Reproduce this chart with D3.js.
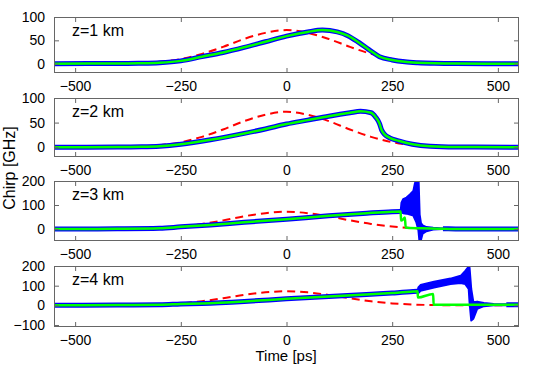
<!DOCTYPE html>
<html>
<head>
<meta charset="utf-8">
<script src="https://cdn.jsdelivr.net/npm/d3@7"></script>
<style>
  html, body { margin: 0; padding: 0; background: #fff; }
  svg { display: block; font-family: "Liberation Sans", Arial, sans-serif; }
</style>
</head>
<body>
<svg id="chart" width="545" height="365"></svg>
<script>
// ---- data ----
const timeTicks = [-500, -250, 0, 250, 500];
const panelNames = ['z=1 km', 'z=2 km', 'z=3 km', 'z=4 km'];
const chirpDomains = [[-20, 100], [-20, 100], [-50, 200], [-110, 200]];
const chirpTicks = [[0, 50, 100], [0, 50, 100], [0, 100, 200], [-100, 0, 100, 200]];

// red dashed: input chirp (same in every panel)
const inputTime = [-550, -450, -400, -350, -300, -250, -200, -150, -100, -50, 0, 50, 100, 150, 200, 250, 300, 350, 400, 450, 550];
const inputChirp = [0, 0.3, 0.6, 1.6, 4, 10, 21, 36, 53, 66, 72, 66, 53, 36, 21, 10, 4, 1.6, 0.6, 0.3, 0];

// z = 1 km (blue and green coincide)
const z1Time = [-550, -400, -350, -300, -250, -200, -150, -100, -50, 0, 50, 85, 120, 145, 170, 195, 220, 250, 280, 310, 350, 400, 550];
const z1Chirp = [0, 0.3, 0.8, 2, 6, 15, 24, 35, 47, 59, 68, 72, 68, 60, 46, 30, 15, 8, 4, 2, 0.7, 0.2, 0];

// z = 2 km (blue and green coincide)
const z2Time = [-550, -400, -343, -300, -250, -180, -100, -50, 0, 50, 100, 150, 175, 200, 211, 220, 225, 232, 244, 265, 298, 340, 400, 550];
const z2Chirp = [0, 0.2, 0.7, 2, 6, 15, 28, 37, 47, 55, 63, 70, 73, 70, 61, 48, 35, 26, 19, 13, 6, 2, 0.5, 0];

// z = 3 km
const z3GreenTime = [-550, -400, -300, -250, -180, -100, 0, 100, 190, 250, 270, 271, 276, 280, 282, 290, 320, 360, 400, 550];
const z3GreenChirp = [0, 1, 3, 9, 17, 28, 41, 55, 66, 72, 73, 35, 40, 48, 6, 4, 3, 1.5, 0.5, 0];
const z3BlueTime = [-550, -400, -300, -250, -180, -100, 0, 100, 190, 250, 270, 300, 370, 400, 550];
const z3BlueChirp = [0, 1, 3, 9, 17, 28, 41, 55, 66, 72, 73, null, 1, 0.5, 0];
const z3BurstTime = [270, 272, 276, 284, 292, 300, 304, 307, 312, 315, 318, 322, 331, 347, 370];
const z3BurstHigh = [73, 110, 124, 131, 144, 158, 192, 230, 230, 60, 25, 15, 8, 5, 2];
const z3BurstLow = [73, 68, 66, 64, 60, 56, 40, 29, -5, -60, -46, -19, -9, -2, 0];

// z = 4 km
const z4GreenTime = [-550, -400, -300, -250, -200, -100, 0, 100, 200, 250, 300, 310, 311, 347, 348, 400, 550];
const z4GreenChirp = [0, 2, 3, 7, 10, 20, 33, 45, 57, 63, 70, 72, 40, 58, 3, 3, 3];
const z4BlueTime = [-550, -400, -300, -250, -200, -100, 0, 100, 200, 250, 300, 310, 400, 520, 550];
const z4BlueChirp = [0, 2, 3, 7, 10, 20, 33, 45, 57, 63, 70, 72, null, 3, 3];
const z4BurstTime = [310, 312, 317, 349, 388, 412, 423, 431, 433, 437, 442, 451, 467, 490, 520];
const z4BurstHigh = [72, 91, 103, 120, 136, 150, 175, 197, 192, 83, 16, 19, 12, 7, 5];
const z4BurstLow = [72, 63, 74, 91, 108, 113, 108, 83, 16, -77, -68, -18, -4, 0, 1];

const panels = [
  { blue: [z1Time, z1Chirp], green: [z1Time, z1Chirp] },
  { blue: [z2Time, z2Chirp], green: [z2Time, z2Chirp] },
  { blue: [z3BlueTime, z3BlueChirp], green: [z3GreenTime, z3GreenChirp], burst: [z3BurstTime, z3BurstHigh, z3BurstLow] },
  { blue: [z4BlueTime, z4BlueChirp], green: [z4GreenTime, z4GreenChirp], burst: [z4BurstTime, z4BurstHigh, z4BurstLow] }
];

// ---- layout ----
const left = 54, right = 519;
const tops = [17, 98, 181, 266];
const bottoms = [73, 157, 241, 327];

const svg = d3.select('#chart');
const x = d3.scaleLinear().domain([-550, 550]).range([left, right]);
const zip = (a, b) => a.map((t, i) => [t, b[i]]);
const minus = d => d < 0 ? '\u2212' + Math.abs(d) : d;

panels.forEach((p, k) => {
  const y = d3.scaleLinear().domain(chirpDomains[k]).range([bottoms[k], tops[k]]);
  const g = svg.append('g');

  g.append('clipPath').attr('id', 'clip' + k)
    .append('rect')
    .attr('x', left).attr('y', tops[k])
    .attr('width', right - left).attr('height', bottoms[k] - tops[k]);

  const plot = g.append('g').attr('clip-path', `url(#clip${k})`);
  const line = d3.line()
    .defined(d => d[1] !== null)
    .x(d => x(d[0])).y(d => y(d[1]))
    .curve(d3.curveMonotoneX);

  plot.append('path')
    .attr('d', line(zip(inputTime, inputChirp)))
    .attr('fill', 'none').attr('stroke', '#ff0000')
    .attr('stroke-width', 2).attr('stroke-dasharray', '8,5');

  plot.append('path')
    .attr('d', line(zip(p.blue[0], p.blue[1])))
    .attr('fill', 'none').attr('stroke', '#0000ff')
    .attr('stroke-width', 5).attr('stroke-linejoin', 'round');

  if (p.burst) {
    const rows = p.burst[0].map((t, i) => [t, p.burst[1][i], p.burst[2][i]]);
    const area = d3.area()
      .x(d => x(d[0])).y0(d => y(d[2])).y1(d => y(d[1]));
    plot.append('path')
      .attr('d', area(rows))
      .attr('fill', '#0000ff').attr('stroke', '#0000ff').attr('stroke-width', 2)
      .attr('stroke-linejoin', 'round');
  }

  plot.append('path')
    .attr('d', line(zip(p.green[0], p.green[1])))
    .attr('fill', 'none').attr('stroke', '#00ff00')
    .attr('stroke-width', 2.5);

  // axes, matlab style: ticks inside, box on
  const xb = g.append('g').attr('transform', `translate(0,${bottoms[k]})`)
    .call(d3.axisBottom(x).tickValues(timeTicks).tickSizeInner(-5).tickSizeOuter(0)
      .tickPadding(8).tickFormat(minus));
  const xt = g.append('g').attr('transform', `translate(0,${tops[k]})`)
    .call(d3.axisTop(x).tickValues(timeTicks).tickSizeInner(-5).tickSizeOuter(0).tickFormat(''));
  const yl = g.append('g').attr('transform', `translate(${left},0)`)
    .call(d3.axisLeft(y).tickValues(chirpTicks[k]).tickSizeInner(-5).tickSizeOuter(0)
      .tickPadding(9).tickFormat(minus));
  const yr = g.append('g').attr('transform', `translate(${right},0)`)
    .call(d3.axisRight(y).tickValues(chirpTicks[k]).tickSizeInner(-5).tickSizeOuter(0).tickFormat(''));

  [xb, xt, yl, yr].forEach(a => {
    a.select('.domain').remove();
    a.selectAll('line').attr('stroke', '#666');
    a.selectAll('text').attr('font-size', 14).attr('fill', '#000')
      .attr('font-family', '"Liberation Sans", Arial, sans-serif');
  });

  g.append('rect')
    .attr('x', left + 0.5).attr('y', tops[k] + 0.5)
    .attr('width', right - left - 1).attr('height', bottoms[k] - tops[k] - 1)
    .attr('fill', 'none').attr('stroke', '#666').attr('stroke-width', 1);

  g.append('text')
    .attr('x', 72).attr('y', tops[k] + 19)
    .attr('font-size', 16).attr('fill', '#000')
    .text(panelNames[k]);
});

svg.append('text')
  .attr('x', 286).attr('y', 361)
  .attr('text-anchor', 'middle').attr('font-size', 15)
  .text('Time [ps]');

svg.append('text')
  .attr('transform', 'translate(15,168) rotate(-90)')
  .attr('text-anchor', 'middle').attr('font-size', 16)
  .text('Chirp [GHz]');
</script>
</body>
</html>
